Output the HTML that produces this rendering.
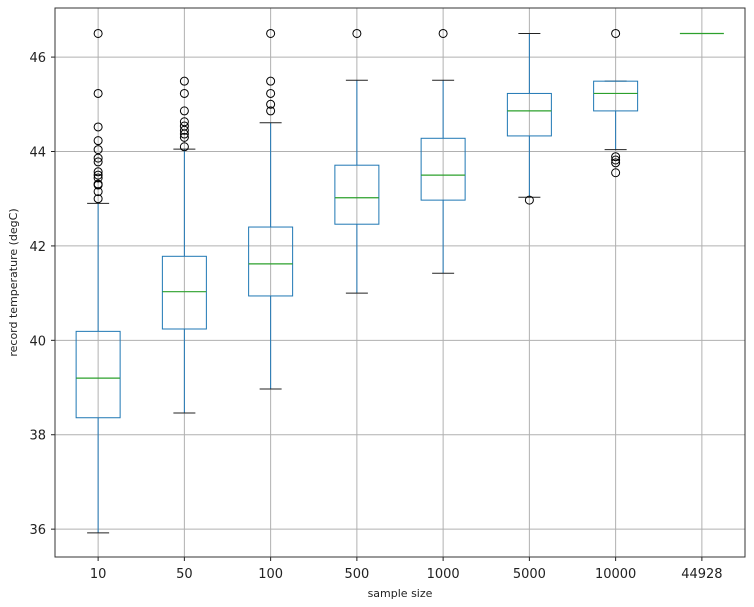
<!DOCTYPE html>
<html><head><meta charset="utf-8"><style>
body{margin:0;background:#fff;}
svg{display:block;font-family:"DejaVu Sans","Liberation Sans",sans-serif;}
</style></head><body>
<svg id="chart" width="754" height="607"></svg>
<script>
const categories=["10","50","100","500","1000","5000","10000","44928"];
const whiskerLow=[35.92,38.46,38.97,41.0,41.42,43.03,44.04,46.5];
const q1=[38.36,40.24,40.94,42.46,42.97,44.33,44.86,46.5];
const medians=[39.2,41.03,41.62,43.02,43.5,44.86,45.23,46.5];
const q3=[40.19,41.78,42.4,43.71,44.28,45.23,45.49,46.5];
const whiskerHigh=[42.9,44.05,44.61,45.51,45.51,46.5,45.49,46.5];
const outliers=[
 [46.5,45.23,44.52,44.23,44.04,43.86,43.78,43.57,43.5,43.44,43.31,43.29,43.15,43.0],
 [45.49,45.23,44.86,44.63,44.54,44.45,44.37,44.3,44.1],
 [46.5,45.49,45.23,45.0,44.86],
 [46.5],[46.5],[42.97],
 [46.5,43.89,43.82,43.76,43.55],
 []];
const yTicks=[36,38,40,42,44,46];

const L=55,R=745,T=8,B=557;
const yMin=35.41,yMax=47.04;
const y=v=>B-(v-yMin)/(yMax-yMin)*(B-T);
const x=i=>L+(i+0.5)*(R-L)/categories.length;
const svg=document.getElementById('chart');
const NS='http://www.w3.org/2000/svg';
function mk(tag,attrs,parent){const e=document.createElementNS(NS,tag);for(const k in attrs)e.setAttribute(k,attrs[k]);(parent||svg).appendChild(e);return e;}
yTicks.forEach(t=>{const g=mk('line',{x1:L,x2:R,y1:y(t),y2:y(t),stroke:'#b0b0b0','stroke-width':1});

});
categories.forEach((c,i)=>{const g=mk('line',{x1:x(i),x2:x(i),y1:T,y2:B,stroke:'#b0b0b0','stroke-width':1});

});
const hw=22, cw=11;
categories.forEach((c,i)=>{
 const cx=x(i);
 const g=mk('g',{});
 
 
 const flat=y(q1[i])-y(q3[i])<0.5;
 if(!flat){
 mk('line',{x1:cx,x2:cx,y1:y(whiskerLow[i]),y2:y(q1[i]),stroke:'#1f77b4','stroke-width':1},g);
 mk('line',{x1:cx,x2:cx,y1:y(q3[i]),y2:y(whiskerHigh[i]),stroke:'#1f77b4','stroke-width':1},g);
 mk('line',{x1:cx-cw,x2:cx+cw,y1:y(whiskerLow[i]),y2:y(whiskerLow[i]),stroke:'#222','stroke-width':1},g);
 mk('line',{x1:cx-cw,x2:cx+cw,y1:y(whiskerHigh[i]),y2:y(whiskerHigh[i]),stroke:'#222','stroke-width':1},g);
 mk('rect',{x:cx-hw,y:y(q3[i]),width:2*hw,height:y(q1[i])-y(q3[i]),fill:'none',stroke:'#1f77b4','stroke-width':1},g);
 }
 mk('line',{x1:cx-hw,x2:cx+hw,y1:y(medians[i]),y2:y(medians[i]),stroke:'#2ca02c','stroke-width':1.2},g);
 outliers[i].forEach(v=>{const o=mk('circle',{cx:cx,cy:y(v),r:4,fill:'none',stroke:'#000','stroke-width':1},g);
  
  });
 const t=mk('text',{x:cx,y:B+21,'text-anchor':'middle','font-size':13,fill:'#222'});
 t.textContent=c;
 
 
});
yTicks.forEach(v=>{
 mk('line',{x1:L-4,x2:L,y1:y(v),y2:y(v),stroke:'#222'});
 const t=mk('text',{x:L-9,y:y(v)+5,'text-anchor':'end','font-size':13,fill:'#222'});
 t.textContent=v;
 
 
});
categories.forEach((c,i)=>mk('line',{x1:x(i),x2:x(i),y1:B,y2:B+4,stroke:'#222'}));
const fr=mk('rect',{x:L,y:T,width:R-L,height:B-T,fill:'none',stroke:'#333','stroke-width':1});


const xl=mk('text',{x:(L+R)/2,y:597,'text-anchor':'middle','font-size':11,fill:'#222'});
xl.textContent='sample size';


const yl=mk('text',{x:17,y:(T+B)/2,'text-anchor':'middle','font-size':11,fill:'#222',transform:'rotate(-90 17 '+((T+B)/2)+')'});
yl.textContent='record temperature (degC)';


</script>
</body></html>
